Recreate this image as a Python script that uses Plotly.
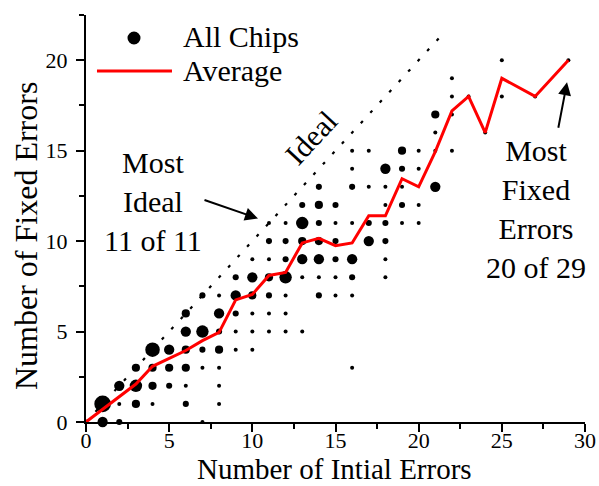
import plotly.graph_objects as go

# Per-chip results: number of initial errors, number fixed, and how many chips share that outcome
chip_initial = [1, 1,
                2, 2, 2,
                3, 3, 3,
                4, 4, 4, 4,
                5, 5, 5,
                6, 6, 6, 6, 6, 6,
                7, 7, 7, 7, 7,
                8, 8, 8, 8, 8, 8, 8,
                9, 9, 9, 9, 9,
                10, 10, 10, 10, 10, 10,
                11, 11, 11, 11, 11, 11, 11,
                12, 12, 12, 12, 12, 12, 12,
                13, 13, 13, 13, 13, 13,
                14, 14, 14, 14, 14, 14, 14,
                15, 15, 15, 15, 15, 15,
                16, 16, 16, 16, 16, 16, 16, 16,
                17, 17, 17, 17,
                18, 18, 18, 18, 18, 18, 18,
                19, 19, 19, 19, 19,
                20, 20, 20, 20,
                21, 21, 21, 21,
                22, 22, 22, 22,
                23, 24, 25, 25, 27, 29]
chip_fixed = [1, 0,
              2, 1, 0,
              3, 2, 1,
              4, 3, 2, 1,
              4, 3, 2,
              6, 5, 4, 3, 2, 1,
              7, 5, 4, 3, 0,
              7, 6, 5, 4, 3, 2, 1,
              8, 7, 6, 5, 4,
              9, 8, 7, 6, 5, 4,
              11, 10, 9, 8, 7, 6, 5,
              11, 10, 9, 8, 7, 6, 5,
              12, 11, 10, 9, 8, 5,
              13, 12, 11, 10, 9, 8, 7,
              12, 11, 10, 9, 8, 7,
              15, 14, 13, 11, 9, 8, 7, 3,
              15, 13, 11, 10,
              14, 13, 12, 11, 10, 9, 8,
              15, 14, 13, 12, 11,
              15, 14, 12, 11,
              17, 16, 15, 13,
              19, 18, 17, 15,
              18, 16, 20, 18, 18, 20]
chip_count = [7, 4,
              4, 1, 2,
              3, 5, 3,
              6, 3, 3, 1,
              4, 3, 2,
              3, 4, 3, 3, 1, 2,
              2, 5, 2, 1, 1,
              1, 4, 2, 3, 1, 1, 1,
              2, 4, 2, 1, 1,
              1, 4, 3, 1, 1, 1,
              1, 2, 1, 3, 2, 1, 1,
              1, 2, 2, 5, 1, 1, 1,
              2, 5, 3, 4, 1, 1,
              2, 3, 2, 3, 4, 1, 2,
              2, 1, 2, 2, 1, 1,
              1, 1, 2, 1, 4, 2, 1, 1,
              1, 1, 2, 4,
              4, 1, 1, 2, 2, 1, 1,
              3, 2, 1, 2, 1,
              1, 1, 1, 1,
              3, 1, 1, 4,
              1, 1, 1, 1,
              1, 1, 1, 1, 1, 1]

# Average number of fixed errors for each initial-error count
avg_initial = [0, 1, 2, 3, 4, 5, 6, 7, 8, 9, 10, 11, 12, 13, 14, 15, 16, 17, 18,
               19, 20, 21, 22, 23, 24, 25, 27, 29]
avg_fixed = [0, 0.7, 1.4, 2.1, 3.08, 3.5, 3.95, 4.5, 4.95, 6.75, 7.05, 8.1, 8.27,
             9.9, 10.15, 9.75, 9.9, 11.4, 11.4, 13.45, 13.0, 14.95, 17.2, 18.0,
             16.0, 19.0, 18.0, 20.0]

# Ideal reference: every initial error gets fixed
ideal_initial = [0, 21.4]
ideal_fixed = [0, 21.4]

SERIF = "Times New Roman, Liberation Serif, serif"

marker_sizes = [1.9 + 2.1 * n for n in chip_count]

fig = go.Figure()

fig.add_trace(go.Scatter(
    x=ideal_initial, y=ideal_fixed, mode="lines",
    line=dict(color="black", width=2.2, dash="3px,11px"),
    hoverinfo="skip", showlegend=False,
))
fig.add_trace(go.Scatter(
    x=chip_initial, y=chip_fixed, mode="markers", name="All Chips",
    marker=dict(color="black", size=marker_sizes, opacity=1, line=dict(width=0)),
    cliponaxis=False, showlegend=False,
))
fig.add_trace(go.Scatter(
    x=avg_initial, y=avg_fixed, mode="lines", name="Average",
    line=dict(color="#ff0000", width=3),
    cliponaxis=False, showlegend=False,
))

axis_common = dict(
    showline=True, linecolor="black", linewidth=2,
    ticks="outside", ticklen=8, tickwidth=2, tickcolor="black",
    showgrid=False, zeroline=False, mirror=False, automargin=False,
    tickfont=dict(family=SERIF, size=22, color="black"),
    minor=dict(ticks="outside", ticklen=5, tickwidth=2, tickcolor="black", dtick=2.5),
)

fig.update_xaxes(range=[0, 30], tick0=0, dtick=5, ticklabelstandoff=-10, **axis_common)
fig.update_yaxes(range=[0, 22.5], tick0=0, dtick=5, ticklabelstandoff=4, **axis_common)

text_font = dict(family=SERIF, size=30, color="black")

# Legend, drawn as shapes and text in paper coordinates
shapes = [
    dict(type="circle", xref="paper", yref="paper", xsizemode="pixel", ysizemode="pixel",
         xanchor=0.0962, yanchor=0.9435, x0=-6.5, x1=6.5, y0=-6.5, y1=6.5,
         fillcolor="black", line=dict(width=0)),
    dict(type="line", xref="paper", yref="paper", x0=0.022, x1=0.1723, y0=0.8624, y1=0.8624,
         line=dict(color="#ff0000", width=3)),
]
annotations = [
    # axis titles
    dict(text="Number of Intial Errors", xref="paper", yref="paper", x=0.498, y=-0.1143,
         xanchor="center", yanchor="middle", showarrow=False,
         font=dict(family=SERIF, size=29, color="black")),
    dict(text="Number of Fixed Errors", xref="paper", yref="paper", x=-0.1202, y=0.457,
         xanchor="center", yanchor="middle", textangle=-90, showarrow=False,
         font=dict(family=SERIF, size=32, color="black")),
    # legend labels
    dict(text="All Chips", xref="paper", yref="paper", x=0.1904, y=0.9460,
         xanchor="left", yanchor="middle", showarrow=False, font=text_font),
    dict(text="Average", xref="paper", yref="paper", x=0.1904, y=0.8640,
         xanchor="left", yanchor="middle", showarrow=False, font=text_font),
    # callouts
    dict(text="Ideal", x=13.53, y=15.73, textangle=-47, showarrow=False, font=text_font),
    dict(text="Most<br>Ideal<br>11 of 11", x=4.0, y=12.2, showarrow=False,
         align="center", font=text_font),
    dict(text="", x=10.34, y=11.25, ax=-55, ay=-19, showarrow=True,
         arrowhead=2, arrowsize=1.3, arrowwidth=2, arrowcolor="black", standoff=0),
    dict(text="Most<br>Fixed<br>Errors<br>20 of 29", x=27.06, y=11.8, showarrow=False,
         align="center", font=text_font),
    dict(text="", x=28.92, y=18.78, ax=-9, ay=47, showarrow=True,
         arrowhead=2, arrowsize=1.3, arrowwidth=2, arrowcolor="black", standoff=0),
]

fig.update_layout(
    width=599, height=486,
    margin=dict(l=86, r=14, t=15, b=64, autoexpand=False),
    plot_bgcolor="white", paper_bgcolor="white",
    shapes=shapes, annotations=annotations,
    showlegend=False,
    font=dict(family=SERIF, color="black"),
)

fig.write_html("out.html")
